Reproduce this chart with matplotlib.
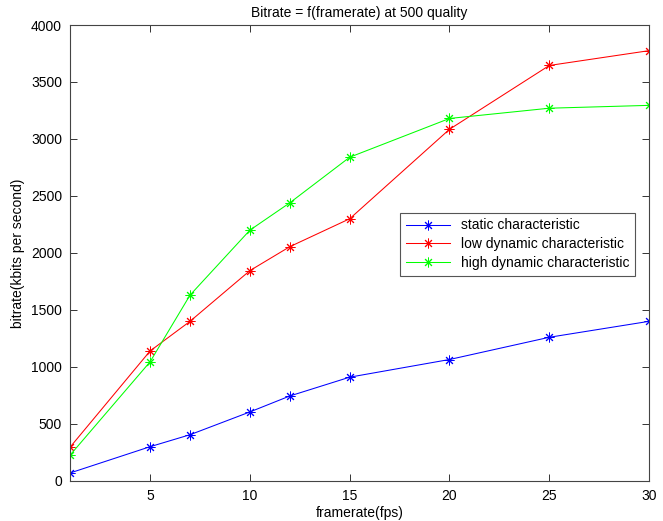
import matplotlib
matplotlib.use('Agg')
import matplotlib.pyplot as plt

plt.rcParams['font.family'] = ['Liberation Sans', 'DejaVu Sans']

framerate = [1, 5, 7, 10, 12, 15, 20, 25, 30]
static = [70, 300, 405, 605, 745, 910, 1065, 1260, 1400]
low_dynamic = [298, 1140, 1400, 1845, 2055, 2300, 3085, 3645, 3775]
high_dynamic = [228, 1045, 1630, 2200, 2440, 2840, 3180, 3270, 3295]

fig = plt.figure(figsize=(6.63, 5.21), dpi=100)
ax = fig.add_axes([0.106, 0.077, 0.873, 0.875])

# matlab style asterisk marker (+ and x)
star = (8, 2, 0)
style = dict(marker=star, lw=0.75, ms=7, mew=0.7)
ax.plot(framerate, static, color='blue', label='static characteristic', **style)
ax.plot(framerate, low_dynamic, color='red', label='low dynamic characteristic', **style)
ax.plot(framerate, high_dynamic, color='lime', label='high dynamic characteristic', **style)

ax.set_xlim(1, 30)
ax.set_ylim(0, 4000)
ax.set_xticks([5, 10, 15, 20, 25, 30])
ax.set_yticks(range(0, 4001, 500))
ax.tick_params(direction='in', top=True, right=True, labelsize=10, length=5,
               color='#333333', width=0.7, pad=6)
for s in ax.spines.values():
    s.set_color('#444444')
    s.set_linewidth(0.8)

ax.set_title('Bitrate = f(framerate) at 500 quality', fontsize=10)
ax.set_xlabel('framerate(fps)', fontsize=10, labelpad=2)
ax.set_ylabel('bitrate(kbits per second)', fontsize=10, labelpad=4)

leg = ax.legend(loc='upper left', bbox_to_anchor=(0.570, 0.588), borderaxespad=0,
                fontsize=10, fancybox=False, framealpha=1, edgecolor='#555555',
                borderpad=0.4, handlelength=3.2, labelspacing=0.35)
leg.get_frame().set_linewidth(0.8)

fig.savefig('out.png', dpi=100)
plt.close(fig)
